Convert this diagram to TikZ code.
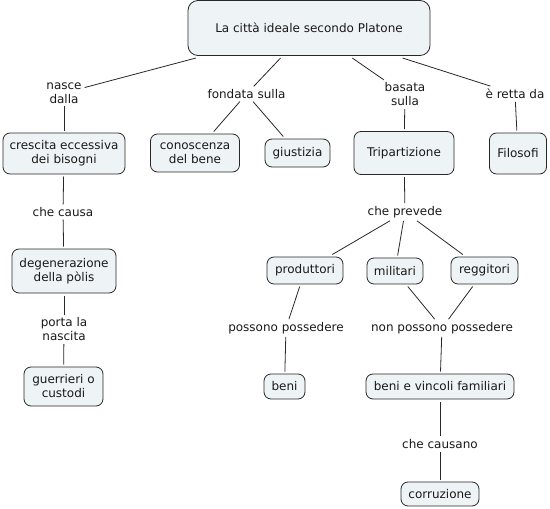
\documentclass[tikz,border=0pt]{standalone}
\usepackage{fontspec}
\setmainfont{DejaVu Sans}
\definecolor{boxfill}{RGB}{238,243,245}
\definecolor{edge}{RGB}{40,40,40}
\begin{document}
\begin{tikzpicture}[x=1pt,y=-1pt,
  every node/.style={font=\fontsize{12}{14}\selectfont, text=black!90},
  concept/.style={draw=edge, fill=boxfill, line width=0.8pt, rounded corners=7pt, align=center, inner sep=0pt, outer sep=2.5pt},
  linklabel/.style={align=center, inner sep=2pt, outer sep=1pt},
  conn/.style={draw=edge, line width=0.8pt}]
\useasboundingbox (0,0) rectangle (550,509);
% concepts
\node[concept, rounded corners=10pt, minimum width=242, minimum height=55] (top) at (309,28) {La città ideale secondo Platone};
\node[concept, minimum width=122, minimum height=41] (crescita) at (64,153.5) {crescita eccessiva\\dei bisogni};
\node[concept, minimum width=89, minimum height=38] (conoscenza) at (195,153) {conoscenza\\del bene};
\node[concept, minimum width=65, minimum height=28] (giustizia) at (297.5,153) {giustizia};
\node[concept, minimum width=100, minimum height=43] (tri) at (404,153) {Tripartizione};
\node[concept, minimum width=57, minimum height=41] (filosofi) at (518,153.5) {Filosofi};
\node[concept, minimum width=104, minimum height=44] (degen) at (64,271) {degenerazione\\della pòlis};
\node[concept, minimum width=79, minimum height=39] (guerrieri) at (63.5,386.5) {guerrieri o\\custodi};
\node[concept, minimum width=76, minimum height=27] (produttori) at (305,270.5) {produttori};
\node[concept, minimum width=56, minimum height=26] (militari) at (395,271) {militari};
\node[concept, minimum width=67, minimum height=27] (reggitori) at (484.5,270.5) {reggitori};
\node[concept, minimum width=41, minimum height=25] (beni) at (284.5,386.5) {beni};
\node[concept, minimum width=148, minimum height=25] (vincoli) at (440,386.5) {beni e vincoli familiari};
\node[concept, minimum width=78, minimum height=24] (corruzione) at (440,494) {corruzione};
% link labels
\node[linklabel] (nasce) at (64,93) {nasce\\dalla};
\node[linklabel] (fondata) at (246.5,94) {fondata sulla};
\node[linklabel] (basata) at (405,94.5) {basata\\sulla};
\node[linklabel] (retta) at (515,94) {è retta da};
\node[linklabel] (causa) at (63,212) {che causa};
\node[linklabel] (porta) at (64,329.5) {porta la\\nascita};
\node[linklabel] (prevede) at (405,212) {che prevede};
\node[linklabel] (possono) at (286,328) {possono possedere};
\node[linklabel] (nonpossono) at (442,328) {non possono possedere};
\node[linklabel] (causano) at (440,444) {che causano};
% connectors
\draw[conn] (top) -- (nasce);
\draw[conn] (nasce) -- (crescita);
\draw[conn] (top) -- (fondata);
\draw[conn] (fondata) -- (conoscenza);
\draw[conn] (fondata) -- (giustizia);
\draw[conn] (top) -- (basata);
\draw[conn] (basata) -- (tri);
\draw[conn] (top) -- (retta);
\draw[conn] (retta) -- (filosofi);
\draw[conn] (crescita) -- (causa);
\draw[conn] (causa) -- (degen);
\draw[conn] (degen) -- (porta);
\draw[conn] (porta) -- (guerrieri);
\draw[conn] (tri) -- (prevede);
\draw[conn] (prevede) -- (produttori);
\draw[conn] (prevede) -- (militari);
\draw[conn] (prevede) -- (reggitori);
\draw[conn] (produttori) -- (possono);
\draw[conn] (possono) -- (beni);
\draw[conn] (militari) -- (nonpossono);
\draw[conn] (reggitori) -- (nonpossono);
\draw[conn] (nonpossono) -- (vincoli);
\draw[conn] (vincoli) -- (causano);
\draw[conn] (causano) -- (corruzione);
\end{tikzpicture}
\end{document}
